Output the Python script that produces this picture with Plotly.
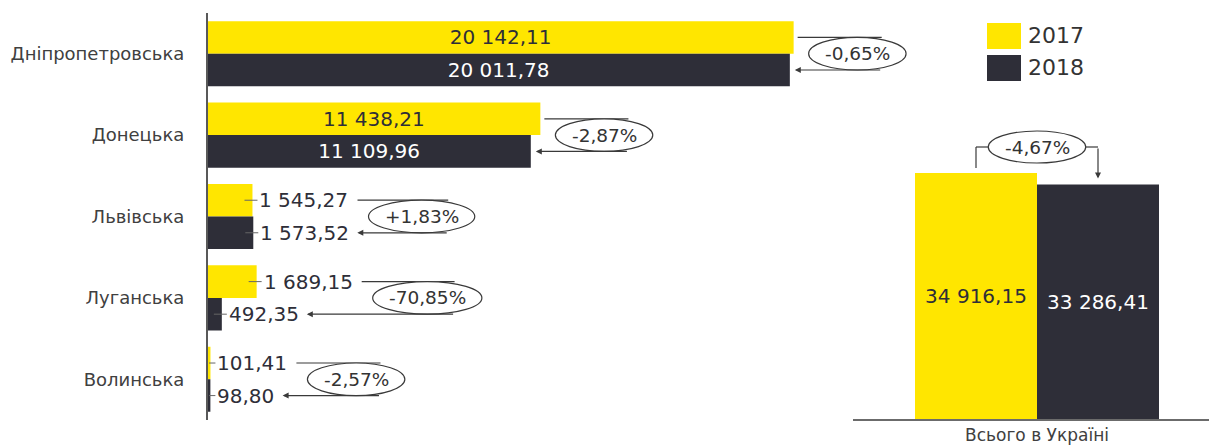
import plotly.graph_objects as go

# ---------------- data ----------------
regions = ["Дніпропетровська", "Донецька", "Львівська", "Луганська", "Волинська"]
v2017 = [20142.11, 11438.21, 1545.27, 1689.15, 101.41]
v2018 = [20011.78, 11109.96, 1573.52, 492.35, 98.80]
changes = ["-0,65%", "-2,87%", "+1,83%", "-70,85%", "-2,57%"]
label_inside = [True, True, False, False, False]

total_cat = ["Всього в Україні"]
total2017 = [34916.15]
total2018 = [33286.41]
total_change = "-4,67%"

years = ["2017", "2018"]

# ---------------- style ----------------
YELLOW = "#FFE600"
DARK = "#2E2E38"
TXT = "#333333"
GREY = "#404040"
FONT = "DejaVu Sans"
W, H = 1209, 445

# left chart geometry (pixels)
LX0, LX1 = 207.5, 945.0
PT, PB = 13.0, 420.0
SC = 0.0291                      # px per unit on left axis
XMAX = (LX1 - LX0) / SC

# right chart geometry (pixels)
RX0, RX1, RC = 853.0, 1209.0, 1037.0
RT, RB = 14.0, 419.0
SC2 = 246.0 / 34916.15           # px per unit on right axis
YMAX2 = (RB - RT) / SC2
BW2 = 122.0 / (RX1 - RX0)        # bar width in category units
UX2 = 1.0 / (RX1 - RX0)          # category units per px
OFF2 = BW2 / 2                   # bar centre offset

CH_SIZE = 18.5


def fmt(v):
    return f"{v:,.2f}".replace(",", " ").replace(".", ",")


CW = {"0": .636, "1": .636, "2": .636, "3": .636, "4": .636, "5": .636, "6": .636,
      "7": .636, "8": .636, "9": .636, " ": .318, ",": .318, "-": .361, "+": .838, "%": .95}


def tw(s, size):
    return sum(CW.get(c, .6) for c in s) * size


fig = go.Figure()

fig.add_trace(go.Bar(
    y=regions, x=v2017, orientation="h", name=years[0],
    marker=dict(color=YELLOW, line=dict(width=0)),
    text=[fmt(v) if ins else "" for v, ins in zip(v2017, label_inside)],
    textposition="inside", insidetextanchor="middle", textangle=0,
    textfont=dict(family=FONT, size=20, color=DARK),
    xaxis="x", yaxis="y", showlegend=False, hoverinfo="skip"))
fig.add_trace(go.Bar(
    y=regions, x=v2018, orientation="h", name=years[1],
    marker=dict(color=DARK, line=dict(width=0)),
    text=[fmt(v) if ins else "" for v, ins in zip(v2018, label_inside)],
    textposition="inside", insidetextanchor="middle", textangle=0,
    textfont=dict(family=FONT, size=20, color="white"),
    xaxis="x", yaxis="y", showlegend=False, hoverinfo="skip"))

fig.add_trace(go.Bar(
    x=total_cat, y=total2017, name=years[0], width=BW2, offset=-BW2,
    marker=dict(color=YELLOW, line=dict(width=0)),
    text=[fmt(v) for v in total2017], textposition="inside",
    insidetextanchor="middle", textangle=0,
    textfont=dict(family=FONT, size=20, color=DARK),
    xaxis="x2", yaxis="y2", showlegend=False, hoverinfo="skip"))
fig.add_trace(go.Bar(
    x=total_cat, y=total2018, name=years[1], width=BW2, offset=0,
    marker=dict(color=DARK, line=dict(width=0)),
    text=[fmt(v) for v in total2018], textposition="inside",
    insidetextanchor="middle", textangle=0,
    textfont=dict(family=FONT, size=20, color="white"),
    xaxis="x2", yaxis="y2", showlegend=False, hoverinfo="skip"))

shapes = []
annotations = []
LC = "#3a3a3a"

for i, (a, b, ch, ins) in enumerate(zip(v2017, v2018, changes, label_inside)):
    ya, yb = i - 0.2, i + 0.2
    ea, eb = a * SC, b * SC
    if ins:
        s_top = ea + 4
        tip = eb + 5
    else:
        for v, yy in ((a, ya), (b, yb)):
            e = v * SC
            shapes.append(dict(type="line", xref="x", yref="y",
                               x0=max(e - 8, 1.5) / SC, x1=(e + 5) / SC, y0=yy, y1=yy,
                               line=dict(color="#666666", width=1)))
            annotations.append(dict(xref="x", yref="y", x=v, y=yy, xshift=5,
                                    xanchor="left", yanchor="middle", showarrow=False,
                                    text=fmt(v), font=dict(family=FONT, size=20, color=DARK)))
        s_top = ea + 7 + tw(fmt(a), 20) + 9
        tip = eb + 7 + tw(fmt(b), 20) + 8
    rx = tw(ch, CH_SIZE) / 2 + 16
    ex0 = s_top + 11
    cx = ex0 + rx
    # top connector line
    shapes.append(dict(type="line", xref="x", yref="y", x0=s_top / SC, x1=(cx + 0.5 * rx) / SC,
                       y0=ya, y1=ya, line=dict(color=LC, width=1.2)))
    # ellipse
    shapes.append(dict(type="circle", xref="x", yref="y", x0=ex0 / SC, x1=(ex0 + 2 * rx) / SC,
                       y0=ya, y1=yb, fillcolor="white", line=dict(color=LC, width=1.2)))
    annotations.append(dict(xref="x", yref="y", x=cx / SC, y=i, showarrow=False, text=ch,
                            font=dict(family=FONT, size=CH_SIZE, color=TXT)))
    # bottom arrow
    annotations.append(dict(xref="x", yref="y", x=tip / SC, y=yb, text="", showarrow=True,
                            axref="pixel", ayref="pixel", ax=(cx + 0.5 * rx) - tip, ay=0,
                            arrowhead=2, arrowsize=1, arrowwidth=1.2, arrowcolor=LC, standoff=0))

# right chart bracket
t17, t18 = total2017[0], total2018[0]
yb_px = 26.0
ybr = t17 + yb_px / SC2
rx2 = (tw(total_change, CH_SIZE) / 2 + 16) * UX2
ry2 = 16.0 / SC2
shapes += [
    dict(type="line", xref="x2", yref="y2", x0=-OFF2, x1=-OFF2, y0=t17 + 5 / SC2, y1=ybr,
         line=dict(color=LC, width=1.2)),
    dict(type="line", xref="x2", yref="y2", x0=-OFF2, x1=-rx2, y0=ybr, y1=ybr,
         line=dict(color=LC, width=1.2)),
    dict(type="line", xref="x2", yref="y2", x0=rx2, x1=OFF2, y0=ybr, y1=ybr,
         line=dict(color=LC, width=1.2)),
    dict(type="circle", xref="x2", yref="y2", x0=-rx2, x1=rx2, y0=ybr - ry2, y1=ybr + ry2,
         fillcolor="white", line=dict(color=LC, width=1.2)),
]
annotations.append(dict(xref="x2", yref="y2", x=0, y=ybr, showarrow=False, text=total_change,
                        font=dict(family=FONT, size=CH_SIZE, color=TXT)))
annotations.append(dict(xref="x2", yref="y2", x=OFF2, y=t18, yshift=6, text="", showarrow=True,
                        axref="pixel", ayref="pixel", ax=0,
                        ay=-((t17 - t18) * SC2 + yb_px - 6),
                        arrowhead=2, arrowsize=1, arrowwidth=1.2, arrowcolor=LC, standoff=0))

# custom legend
for k, (yr, col) in enumerate(zip(years, [YELLOW, DARK])):
    top = 23 + k * 32
    shapes.append(dict(type="rect", xref="paper", yref="paper",
                       x0=987 / W, x1=1021 / W, y0=1 - (top + 26) / H, y1=1 - top / H,
                       fillcolor=col, line=dict(width=0)))
    annotations.append(dict(xref="paper", yref="paper", x=1026 / W, y=1 - (top + 13) / H,
                            xanchor="left", yanchor="middle", showarrow=False, text=yr,
                            font=dict(family=FONT, size=22, color=TXT)))

fig.update_layout(
    width=W, height=H, margin=dict(l=0, r=0, t=0, b=0, autoexpand=False),
    paper_bgcolor="white", plot_bgcolor="rgba(0,0,0,0)",
    barmode="group", bargap=0.2, bargroupgap=0,
    font=dict(family=FONT, color=GREY),
    xaxis=dict(domain=[LX0 / W, LX1 / W], range=[0, XMAX], visible=False, fixedrange=True),
    yaxis=dict(domain=[(H - PB) / H, (H - PT) / H], type="category",
               categoryorder="array", categoryarray=regions, range=[4.5, -0.5],
               showline=True, linecolor="#595959", linewidth=1.5, ticks="",
               showgrid=False, zeroline=False, ticklabelstandoff=18,
               tickfont=dict(family=FONT, size=18, color=GREY)),
    xaxis2=dict(domain=[RX0 / W, RX1 / W], anchor="y2", type="category",
                range=[-(RC - RX0) * UX2, (RX1 - RC) * UX2],
                showline=True, linecolor="#6b6b6b", linewidth=2, ticks="",
                showgrid=False, tickfont=dict(family=FONT, size=17, color=GREY)),
    yaxis2=dict(domain=[(H - RB) / H, (H - RT) / H], anchor="x2", range=[0, YMAX2],
                visible=False),
    shapes=shapes, annotations=annotations,
)

fig.write_html(
    "out.html",
    config={"displayModeBar": False, "staticPlot": True},
    post_script="document.body.style.margin='0';document.body.style.overflow='hidden';",
)
